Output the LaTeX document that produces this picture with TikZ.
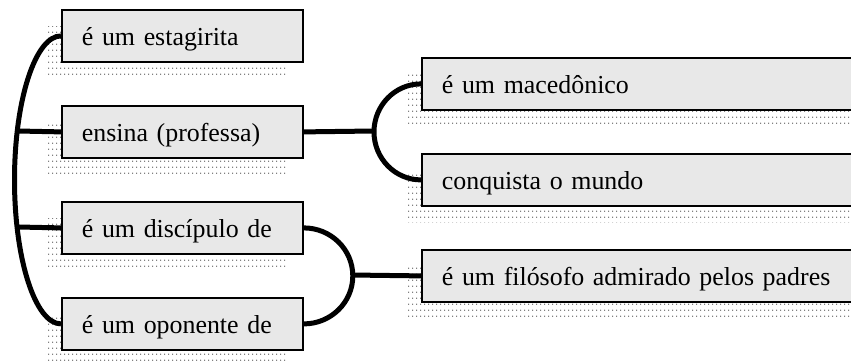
\documentclass[tikz,border=0pt]{standalone}
\usepackage{fontspec}
\setmainfont{Liberation Serif}
\usetikzlibrary{shadows,patterns.meta}
\definecolor{boxgray}{HTML}{E8E8E8}
\tikzdeclarepattern{
  name=stipple,
  type=uncolored,
  bounding box={(0pt,0pt) and (4pt,5.5pt)},
  tile size={(4pt,5.5pt)},
  code={\fill (0pt,0pt) rectangle (1.5pt,1.5pt);}
}
\tikzset{
  box/.style={rectangle, draw=black, line width=1.8pt, fill=boxgray,
    anchor=north west, minimum height=52pt, inner xsep=20pt, inner ysep=0pt,
    text height=23pt, text depth=3pt, align=left,
    font=\fontsize{25.9}{30}\selectfont,
    general shadow={shadow xshift=-16pt, shadow yshift=-17pt,
      pattern=stipple, pattern color=black!50}},
  lbox/.style={box, text width=201pt, minimum width=241pt},
  rbox/.style={box, text width=440pt, minimum width=480pt},
  conn/.style={line width=5pt, draw=black}
}
\begin{document}
\begin{tikzpicture}[x=1pt,y=-1pt]
\useasboundingbox (0,0) rectangle (851,361);
% left boxes
\node[lbox] (b1) at (61,9)   {é um estagirita};
\node[lbox] (b2) at (61,105) {ensina (professa)};
\node[lbox] (b3) at (61,201) {é um discípulo de};
\node[lbox] (b4) at (61,297) {é um oponente de};
% right boxes
\node[rbox] (r1) at (421,57)  {é um macedônico};
\node[rbox] (r2) at (421,153) {conquista o mundo};
\node[rbox] (r3) at (421,249) {é um filósofo admirado pelos padres};
% junctions
\coordinate (j2) at (18,131);
\coordinate (j3) at (18,227);
\coordinate (jr) at (374,131);
\coordinate (jb) at (351,275);
% left bracket
\draw[conn] (b1.west) arc[start angle=90, end angle=270, x radius=46.5pt, y radius=144pt];
\draw[conn] (j2) -- (b2.west);
\draw[conn] (j3) -- (b3.west);
% top right fork
\draw[conn] (b2.east) -- (jr);
\draw[conn] (r1.west) arc[start angle=90, end angle=270, x radius=47pt, y radius=48pt];
% bottom fork
\draw[conn] (b3.east) arc[start angle=90, end angle=-90, x radius=49pt, y radius=48pt];
\draw[conn] (jb) -- (r3.west);
\end{tikzpicture}
\end{document}
